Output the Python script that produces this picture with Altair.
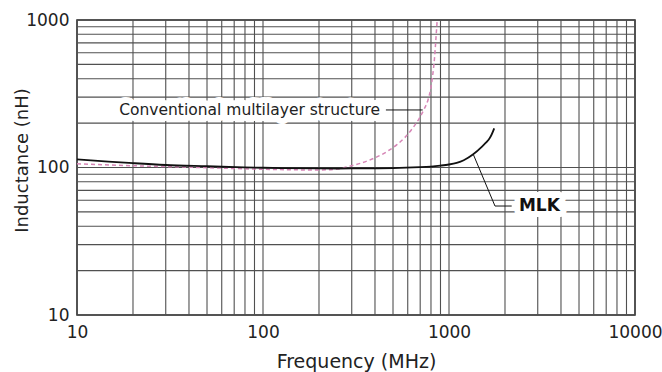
import altair as alt
import pandas as pd

# ---- data ----
freq_mlk = [10, 20, 30, 50, 100, 200, 300, 500, 700, 800, 900, 1000, 1100, 1200, 1350, 1500, 1650, 1750]
ind_mlk = [113.6, 107, 104, 102, 99.6, 98.6, 98.5, 99, 100.5, 101.5, 103, 104.8, 107.5, 112, 123, 138, 157, 184]

freq_conv = [10, 20, 50, 100, 200, 250, 282, 333, 392, 464, 525, 580, 640, 690, 734,
             771, 795, 815, 836, 851, 864]
ind_conv = [106, 102.8, 99.7, 97.3, 96.2, 97.5, 101, 106.7, 115, 128.2, 143, 160, 186, 214, 248,
            287, 335, 411, 553, 755, 1000]

grid_x = [10, 20, 30, 40, 50, 60, 70, 80, 90,
          100, 200, 300, 400, 500, 600, 700, 800, 900,
          1000, 2000, 3000, 4000, 5000, 6000, 7000, 8000, 9000, 10000]
grid_y = [10, 20, 30, 40, 50, 60, 70, 80, 90,
          100, 200, 300, 400, 500, 600, 700, 800, 900, 1000]
x_ticks = [10, 100, 1000, 10000]
y_ticks = [10, 100, 1000]

conv_label = "Conventional multilayer structure"
mlk_label = "MLK"
conv_leader_f = [458, 722]
conv_leader_l = [245.5, 245.5]
mlk_leader_f = [1350, 1767, 2173]
mlk_leader_l = [123, 54.8, 54.8]
label_f = [426, 2377]
label_l = [245.5, 54.8]

FONT = "DejaVu Sans"
INK = "#222222"

xscale = alt.Scale(type="log", domain=[10, 10000], nice=False)
yscale = alt.Scale(type="log", domain=[10, 1000], nice=False)

x_axis = alt.Axis(values=x_ticks, format="d", title="Frequency (MHz)", grid=False,
                  ticks=False, domain=False, labelFlush=False, labelFontSize=17,
                  labelPadding=9, labelFont=FONT, labelColor=INK, titleFont=FONT,
                  titleFontSize=19, titleFontWeight="normal", titleColor=INK,
                  titlePadding=12)
y_axis = alt.Axis(values=y_ticks, format="d", title="Inductance (nH)", grid=False,
                  ticks=False, domain=False, labelFlush=False, labelFontSize=17,
                  labelPadding=8, labelFont=FONT, labelColor=INK, titleFont=FONT,
                  titleFontSize=18, titleFontWeight="normal", titleColor=INK,
                  titleBaseline="alphabetic", titleX=-50, titleY=140)

X = lambda: alt.X("f:Q", scale=xscale, axis=x_axis)
Y = lambda: alt.Y("l:Q", scale=yscale, axis=y_axis)

df_gx = pd.DataFrame({"f": grid_x})
df_gy = pd.DataFrame({"l": grid_y})

gx = alt.Chart(df_gx).mark_rule(color="#505050", strokeWidth=1.1).encode(x=X())
gy = alt.Chart(df_gy).mark_rule(color="#505050", strokeWidth=1.1).encode(y=Y())

df_mlk = pd.DataFrame({"f": freq_mlk, "l": ind_mlk})
df_conv = pd.DataFrame({"f": freq_conv, "l": ind_conv})

conv = alt.Chart(df_conv).mark_line(color="#d685b6", strokeWidth=1.5, strokeDash=[4, 3],
                                    interpolate="monotone", clip=True).encode(x=X(), y=Y())
mlk = alt.Chart(df_mlk).mark_line(color="#111111", strokeWidth=1.8,
                                  interpolate="catmull-rom", clip=True).encode(x=X(), y=Y())

df_lead = pd.DataFrame({
    "f": conv_leader_f + mlk_leader_f,
    "l": conv_leader_l + mlk_leader_l,
    "g": ["c"] * len(conv_leader_f) + ["m"] * len(mlk_leader_f),
    "o": list(range(len(conv_leader_f))) + list(range(len(mlk_leader_f))),
})
lead = alt.Chart(df_lead).mark_line(color="#111111", strokeWidth=1).encode(
    x=X(), y=Y(), detail="g:N", order="o:Q")

df_c = pd.DataFrame({"f": [label_f[0]], "l": [label_l[0]], "t": [conv_label]})
df_m = pd.DataFrame({"f": [label_f[1]], "l": [label_l[1]], "t": [mlk_label]})

c_halo = alt.Chart(df_c).mark_text(align="right", baseline="middle", font=FONT, fontSize=15.5,
                                   stroke="white", strokeWidth=12, strokeJoin="round",
                                   fill="white").encode(x=X(), y=Y(), text="t:N")
c_text = alt.Chart(df_c).mark_text(align="right", baseline="middle", font=FONT, fontSize=15.5,
                                   color=INK).encode(x=X(), y=Y(), text="t:N")
m_halo = alt.Chart(df_m).mark_text(align="left", baseline="middle", font=FONT, fontSize=17,
                                   fontWeight="bold", stroke="white", strokeWidth=12,
                                   strokeJoin="round", fill="white").encode(
    x=X(), y=Y(), text="t:N")
m_text = alt.Chart(df_m).mark_text(align="left", baseline="middle", font=FONT, fontSize=17,
                                   fontWeight="bold", color="#111111").encode(
    x=X(), y=Y(), text="t:N")

chart = alt.layer(gx, gy, c_halo, m_halo, conv, mlk, lead, c_text, m_text).properties(
    width=558, height=295,
    autosize=alt.AutoSizeParams(type="none"),
    padding={"left": 77, "top": 20, "right": 27, "bottom": 57},
    background="white",
).configure_view(stroke="#222222", strokeWidth=1.5)

chart.save("out.html", embed_options={"renderer": "svg", "actions": False})
